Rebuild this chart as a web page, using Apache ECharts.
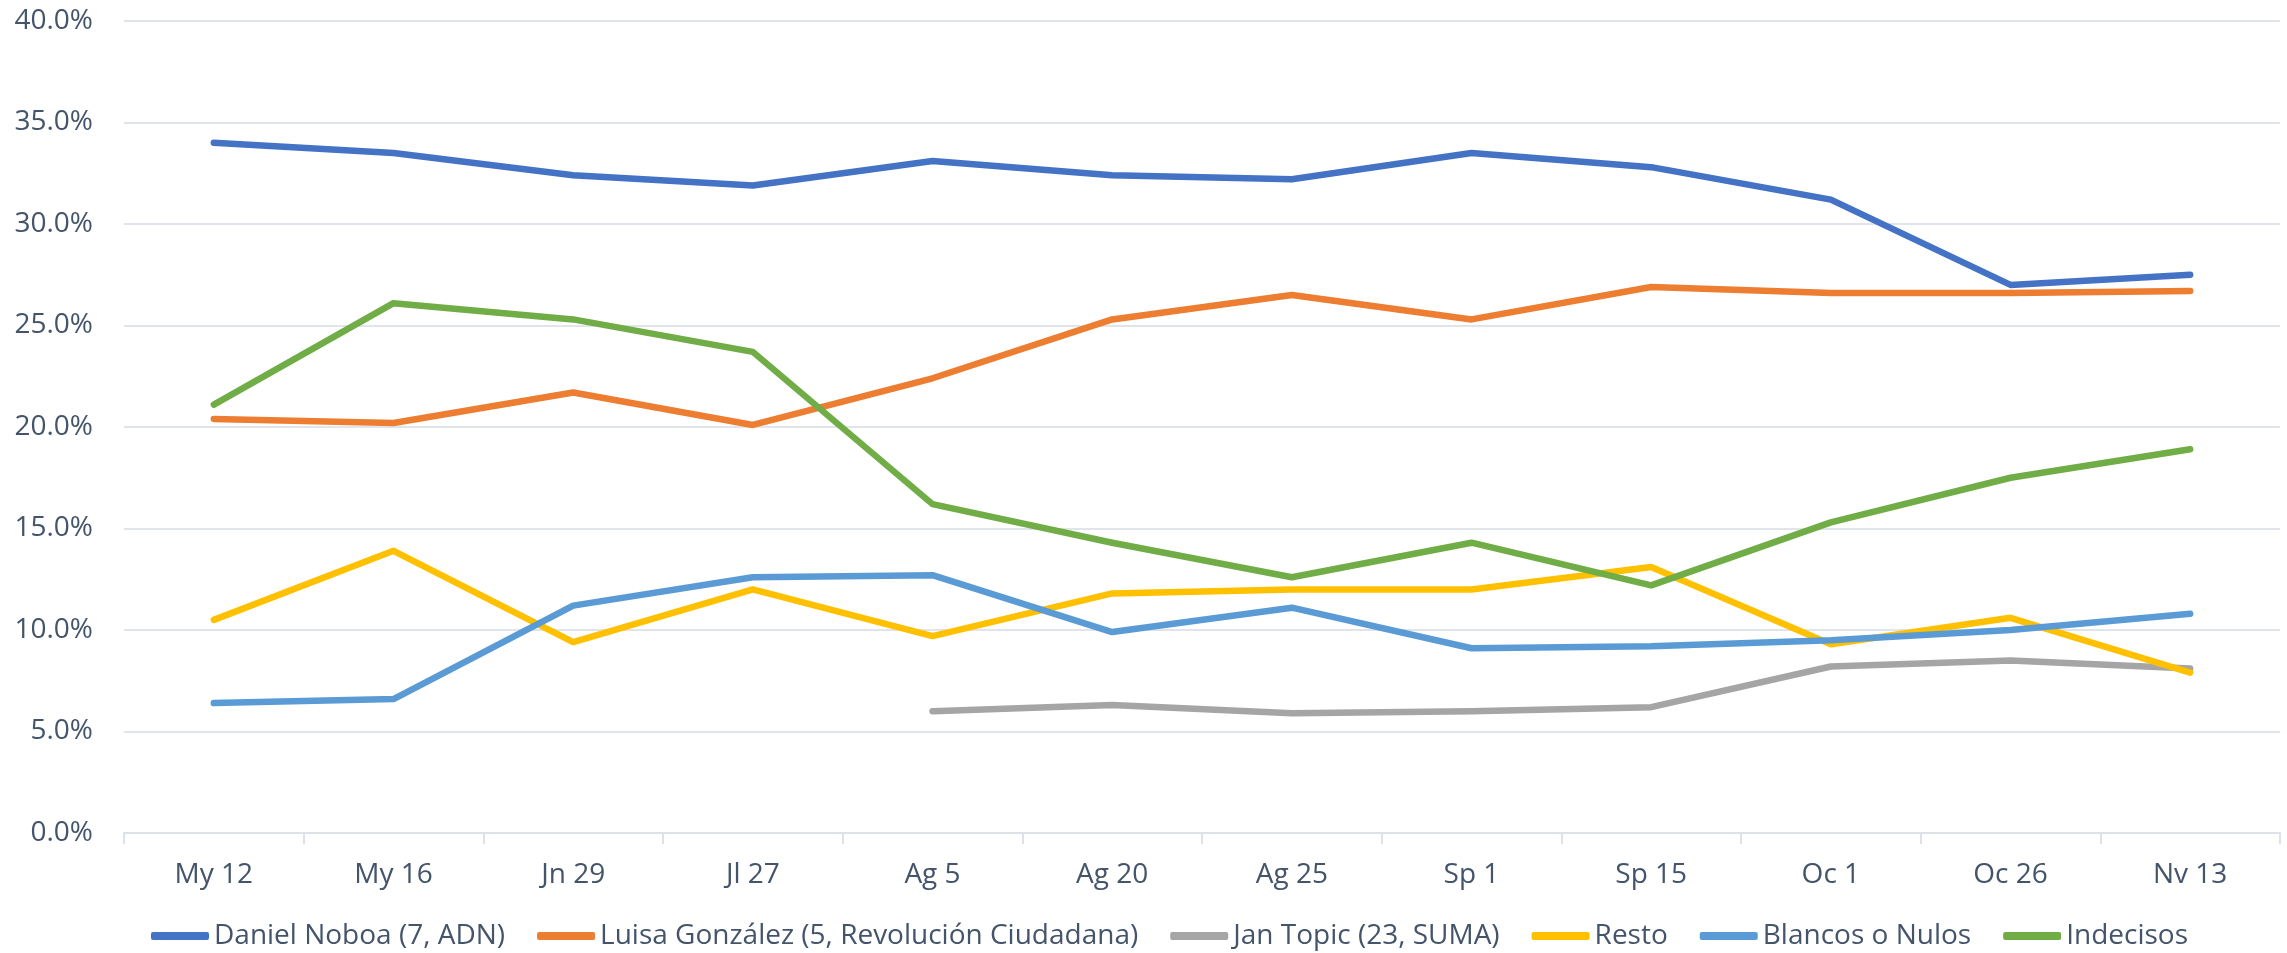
<!DOCTYPE html>
<html>
<head>
<meta charset="utf-8">
<script src="https://cdn.jsdelivr.net/npm/echarts@6/dist/echarts.min.js"></script>
<style>
  html, body { margin: 0; padding: 0; background: #fff; }
  #myChart { width: 2287px; height: 953px; }
</style>
</head>
<body>
<div id="myChart"></div>
<script>
// categorías (fechas de las encuestas)
const categories = ['My 12', 'My 16', 'Jn 29', 'Jl 27', 'Ag 5', 'Ag 20', 'Ag 25', 'Sp 1', 'Sp 15', 'Oc 1', 'Oc 26', 'Nv 13'];

// valores en %
const noboa    = [34.0, 33.5, 32.4, 31.9, 33.1, 32.4, 32.2, 33.5, 32.8, 31.2, 27.0, 27.5];
const gonzalez = [20.4, 20.2, 21.7, 20.1, 22.4, 25.3, 26.5, 25.3, 26.9, 26.6, 26.6, 26.7];
const topic    = [null, null, null, null, 6.0, 6.3, 5.9, 6.0, 6.2, 8.2, 8.5, 8.1];
const resto    = [10.5, 13.9, 9.4, 12.0, 9.7, 11.8, 12.0, 12.0, 13.1, 9.3, 10.6, 7.9];
const blancos  = [6.4, 6.6, 11.2, 12.6, 12.7, 9.9, 11.1, 9.1, 9.2, 9.5, 10.0, 10.8];
const indecisos = [21.1, 26.1, 25.3, 23.7, 16.2, 14.3, 12.6, 14.3, 12.2, 15.3, 17.5, 18.9];

// marcas del eje Y
const yMin = 0, yMax = 40, yStep = 5;

const names = [
  'Daniel Noboa (7, ADN)',
  'Luisa González (5, Revolución Ciudadana)',
  'Jan Topic (23, SUMA)',
  'Resto',
  'Blancos o Nulos',
  'Indecisos'
];
const colors = ['#4472C4', '#ED7D31', '#A5A5A5', '#FFC000', '#5B9BD5', '#70AD47'];
const values = [noboa, gonzalez, topic, resto, blancos, indecisos];

const textColor = '#44546A';
const font = 'Open Sans';

const myChart = echarts.init(document.getElementById('myChart'));

const option = {
  animation: false,
  color: colors,
  grid: { left: 124, right: 7, top: 21, bottom: 120 },
  legend: {
    data: names,
    left: 146,
    top: 917,
    icon: 'roundRect',
    itemWidth: 58,
    itemHeight: 8,
    itemGap: 32,
    textStyle: { color: textColor, fontSize: 28, fontFamily: font }
  },
  xAxis: {
    type: 'category',
    data: categories,
    boundaryGap: true,
    axisLine: { lineStyle: { color: '#DDE1E8', width: 2 } },
    axisTick: { show: true, length: 11, lineStyle: { color: '#DDE1E8', width: 2 } },
    axisLabel: { color: textColor, fontSize: 28, fontFamily: font, margin: 28 }
  },
  yAxis: {
    type: 'value',
    min: yMin,
    max: yMax,
    interval: yStep,
    axisLine: { show: false },
    axisTick: { show: false },
    splitLine: { lineStyle: { color: '#E1E5EB', width: 2 } },
    axisLabel: {
      color: textColor, fontSize: 28, fontFamily: font, margin: 31,
      formatter: v => v.toFixed(1) + '%'
    }
  },
  series: names.map((n, i) => ({
    name: n,
    type: 'line',
    data: values[i],
    symbol: 'none',
    connectNulls: false,
    lineStyle: { width: 6.5, color: colors[i], cap: 'round', join: 'round' },
    itemStyle: { color: colors[i] }
  }))
};

myChart.setOption(option);
</script>
</body>
</html>
